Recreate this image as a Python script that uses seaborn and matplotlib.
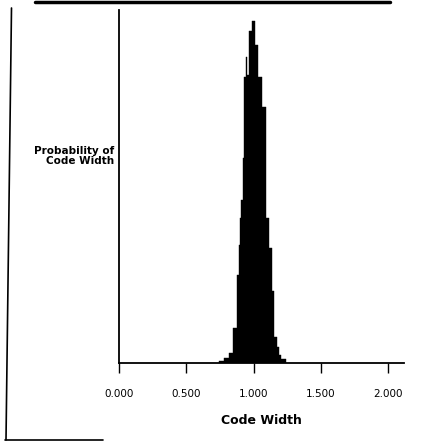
import numpy as np
import pandas as pd
import matplotlib
matplotlib.use("Agg")
import matplotlib.pyplot as plt
import seaborn as sns
from matplotlib.lines import Line2D

# histogram: bin edges (code width) and relative probability
bin_edges = [0.743, 0.780, 0.817, 0.847, 0.873, 0.888, 0.899, 0.909, 0.919,
             0.929, 0.940, 0.953, 0.968, 0.986, 1.010, 1.035, 1.060, 1.090,
             1.114, 1.134, 1.152, 1.172, 1.189, 1.204, 1.238]
probability = [0.7, 1.6, 2.9, 10.2, 25.7, 34.5, 42.4, 47.7, 59.9, 83.6, 89.5,
               84.2, 97.1, 100.0, 93.0, 83.6, 74.9, 42.4, 33.6, 21.1, 7.6,
               4.7, 2.3, 1.2]
tick_values = [0.0, 0.5, 1.0, 1.5, 2.0]
tick_labels = ["0.000", "0.500", "1.000", "1.500", "2.000"]

edges = np.array(bin_edges)
df = pd.DataFrame({
    "width": (edges[:-1] + edges[1:]) / 2,
    "prob": probability,
})

sns.set_style("ticks")
plt.rcParams['font.family'] = ['DejaVu Sans']
plt.rcParams['text.color'] = 'black'
plt.rcParams['axes.labelcolor'] = 'black'
plt.rcParams['xtick.color'] = 'black'

fig = plt.figure(figsize=(4.39, 4.42), dpi=100)
ax = fig.add_axes([119 / 439, 1 - 363 / 442, (404 - 119) / 439, (363 - 10) / 442])

sns.histplot(data=df, x="width", weights="prob", bins=bin_edges, color="black",
             alpha=1, edgecolor="black", linewidth=0.3, ax=ax)

ax.set_xlim(0, 2.117)
ax.set_ylim(0, 103.2)
ax.set_xticks(tick_values)
ax.set_xticklabels(tick_labels, fontsize=7.5)
ax.set_yticks([])
ax.tick_params(axis="x", direction="out", length=7.5, width=1, pad=11,
               color="black", labelcolor="black")
for s in ["top", "right"]:
    ax.spines[s].set_visible(False)
for s in ["left", "bottom"]:
    ax.spines[s].set_linewidth(1.3)
    ax.spines[s].set_color("black")

ax.set_xlabel("Code Width", fontsize=9, fontweight="bold", labelpad=11,
              color="black")
ax.set_ylabel("Probability of\nCode Width", fontsize=7.5, fontweight="bold",
              rotation=0, ha="right", va="center", linespacing=1.0,
              color="black")
ax.yaxis.set_label_coords(-0.018, 0.585)

# scanned page border fragments
W, H = 439, 442
fig.add_artist(Line2D([35 / W, 390 / W], [1 - 1.5 / H, 1 - 1.5 / H],
                      color="black", lw=2.5, transform=fig.transFigure))
fig.add_artist(Line2D([11.5 / W, 6 / W], [1 - 8 / H, 1 - 440 / H],
                      color="black", lw=1.2, transform=fig.transFigure))
fig.add_artist(Line2D([5 / W, 103 / W], [1 - 440 / H, 1 - 440 / H],
                      color="black", lw=1.2, transform=fig.transFigure))

fig.savefig("out.png", dpi=100)
